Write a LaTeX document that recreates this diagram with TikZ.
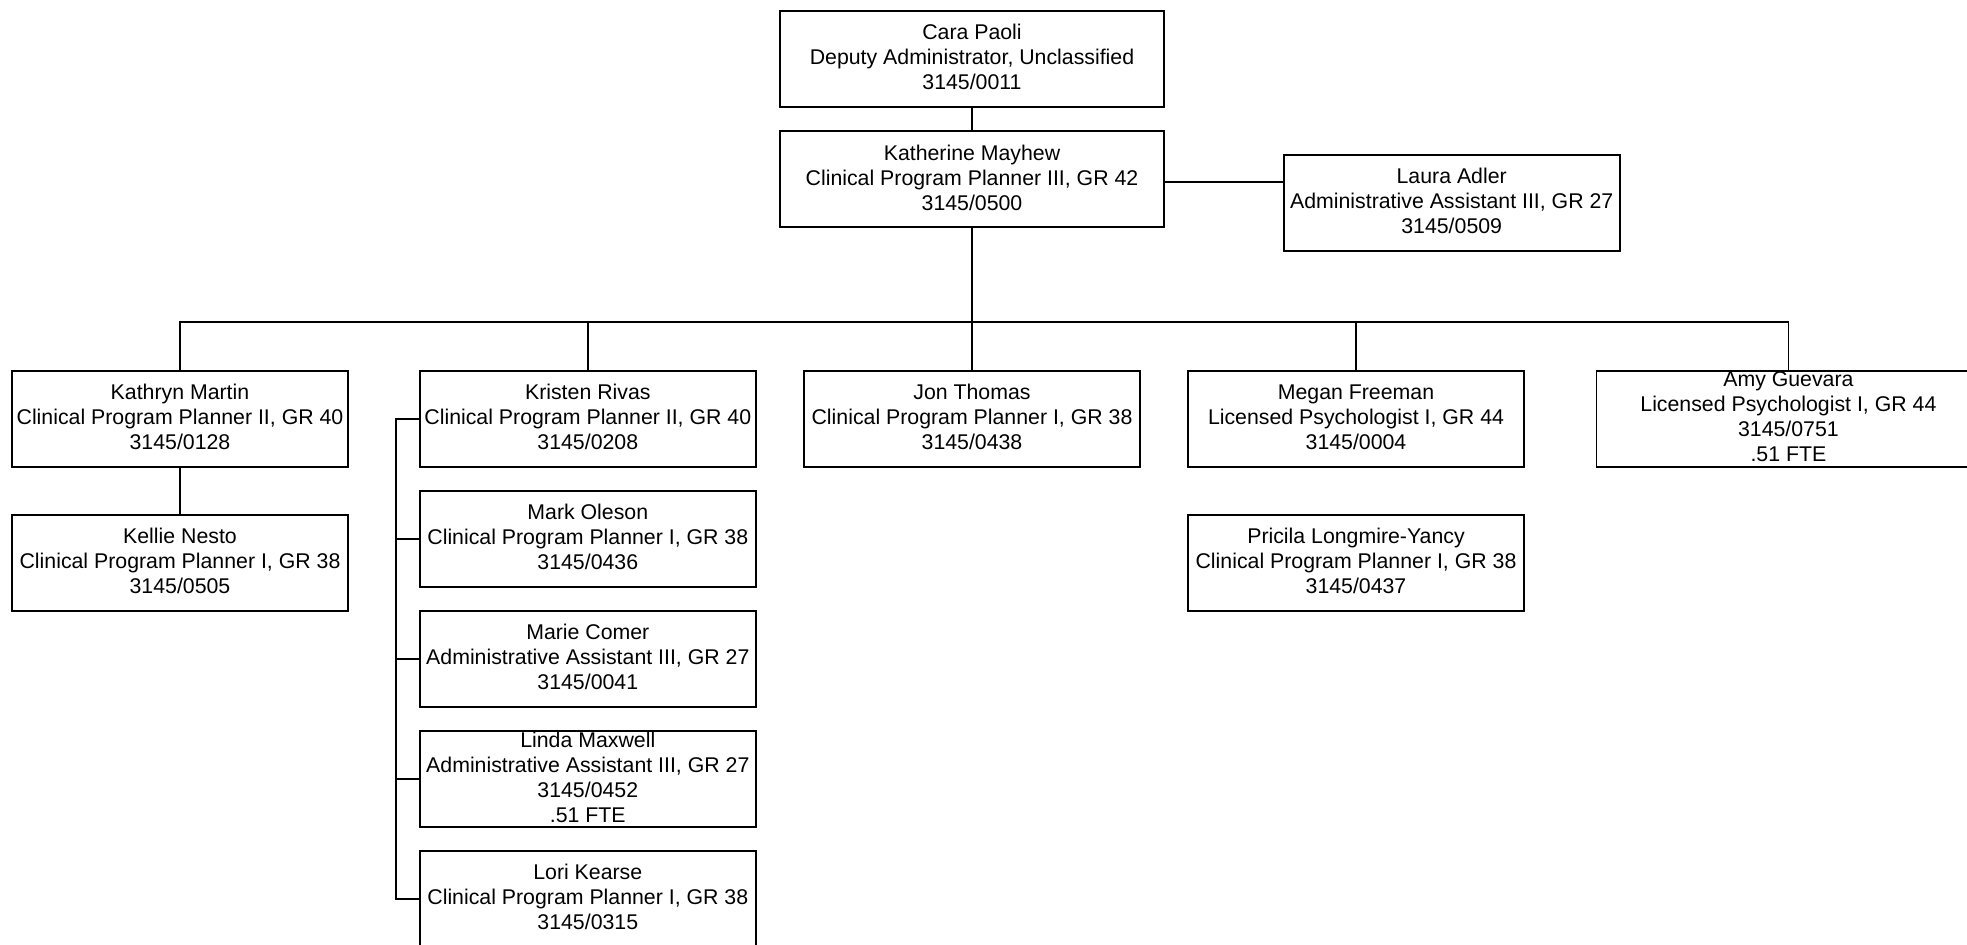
\documentclass[tikz,border=0pt]{standalone}
\usepackage{fontspec}
\setmainfont{Liberation Sans}
\tikzset{
  pbox/.style={draw, line width=0.85pt, minimum height=48pt, minimum width=168pt, inner sep=0pt},
  wbox/.style={pbox, minimum width=192pt},
  ptext/.style={align=center, inner sep=0pt, yshift=0.8pt, font=\fontsize{10.65}{12.5}\selectfont},
  conn/.style={line width=0.85pt}
}
\newcommand{\pers}[5]{%
  \node[#1] (#2) at (#3) {};
  \node[ptext] (#2-t) at (#2.center) {#4\\#5};
}
\begin{document}
\begin{tikzpicture}[x=0.5pt,y=-0.5pt]
\useasboundingbox (0,0) rectangle (1967,945);
\clip (0,0) rectangle (1967,945);
\pers{wbox}{cara}{972,58.7}{Cara Paoli}{Deputy Administrator, Unclassified\\3145/0011}
\pers{wbox}{kath}{972,179}{Katherine Mayhew}{Clinical Program Planner III, GR 42\\3145/0500}
\pers{pbox}{laura}{1451.7,202.7}{Laura Adler}{Administrative Assistant III, GR 27\\3145/0509}
\pers{pbox}{kathryn}{180,418.7}{Kathryn Martin}{Clinical Program Planner II, GR 40\\3145/0128}
\pers{pbox}{kellie}{180,562.7}{Kellie Nesto}{Clinical Program Planner I, GR 38\\3145/0505}
\pers{pbox}{kristen}{587.8,418.7}{Kristen Rivas}{Clinical Program Planner II, GR 40\\3145/0208}
\pers{pbox}{mark}{587.8,538.7}{Mark Oleson}{Clinical Program Planner I, GR 38\\3145/0436}
\pers{pbox}{marie}{587.8,658.9}{Marie Comer}{Administrative Assistant III, GR 27\\3145/0041}
\pers{pbox}{linda}{587.8,778.9}{Linda Maxwell}{Administrative Assistant III, GR 27\\3145/0452\\.51 FTE}
\pers{pbox}{lori}{587.8,898.9}{Lori Kearse}{Clinical Program Planner I, GR 38\\3145/0315}
\pers{pbox}{jon}{972,418.7}{Jon Thomas}{Clinical Program Planner I, GR 38\\3145/0438}
\pers{pbox}{megan}{1356,418.7}{Megan Freeman}{Licensed Psychologist I, GR 44\\3145/0004}
\pers{pbox}{pricila}{1356,562.7}{Pricila Longmire-Yancy}{Clinical Program Planner I, GR 38\\3145/0437}
\pers{wbox}{amy}{1788.4,418.7}{Amy Guevara}{Licensed Psychologist I, GR 44\\3145/0751\\.51 FTE}
\coordinate (bus) at (972,322.3);
\coordinate (side) at (396,418.7);
\draw[conn] (cara.south) -- (kath.north);
\draw[conn] ([yshift=-1.5pt]kath.east) -- ([yshift=-1.5pt]kath.east -| laura.west);
\draw[conn] (kath.south) -- (bus);
\draw[conn] (kathryn.north) -- (kathryn.north |- bus) -- (amy.north |- bus) -- (amy.north);
\draw[conn] (kristen.north) -- (kristen.north |- bus);
\draw[conn] (jon.north) -- (jon.north |- bus);
\draw[conn] (megan.north) -- (megan.north |- bus);
\draw[conn] (kathryn.south) -- (kellie.north);
\draw[conn] (kristen.west) -- (kristen.west -| side) -- (lori.west -| side) -- (lori.west);
\draw[conn] (mark.west) -- (mark.west -| side);
\draw[conn] (marie.west) -- (marie.west -| side);
\draw[conn] (linda.west) -- (linda.west -| side);
\end{tikzpicture}
\end{document}
